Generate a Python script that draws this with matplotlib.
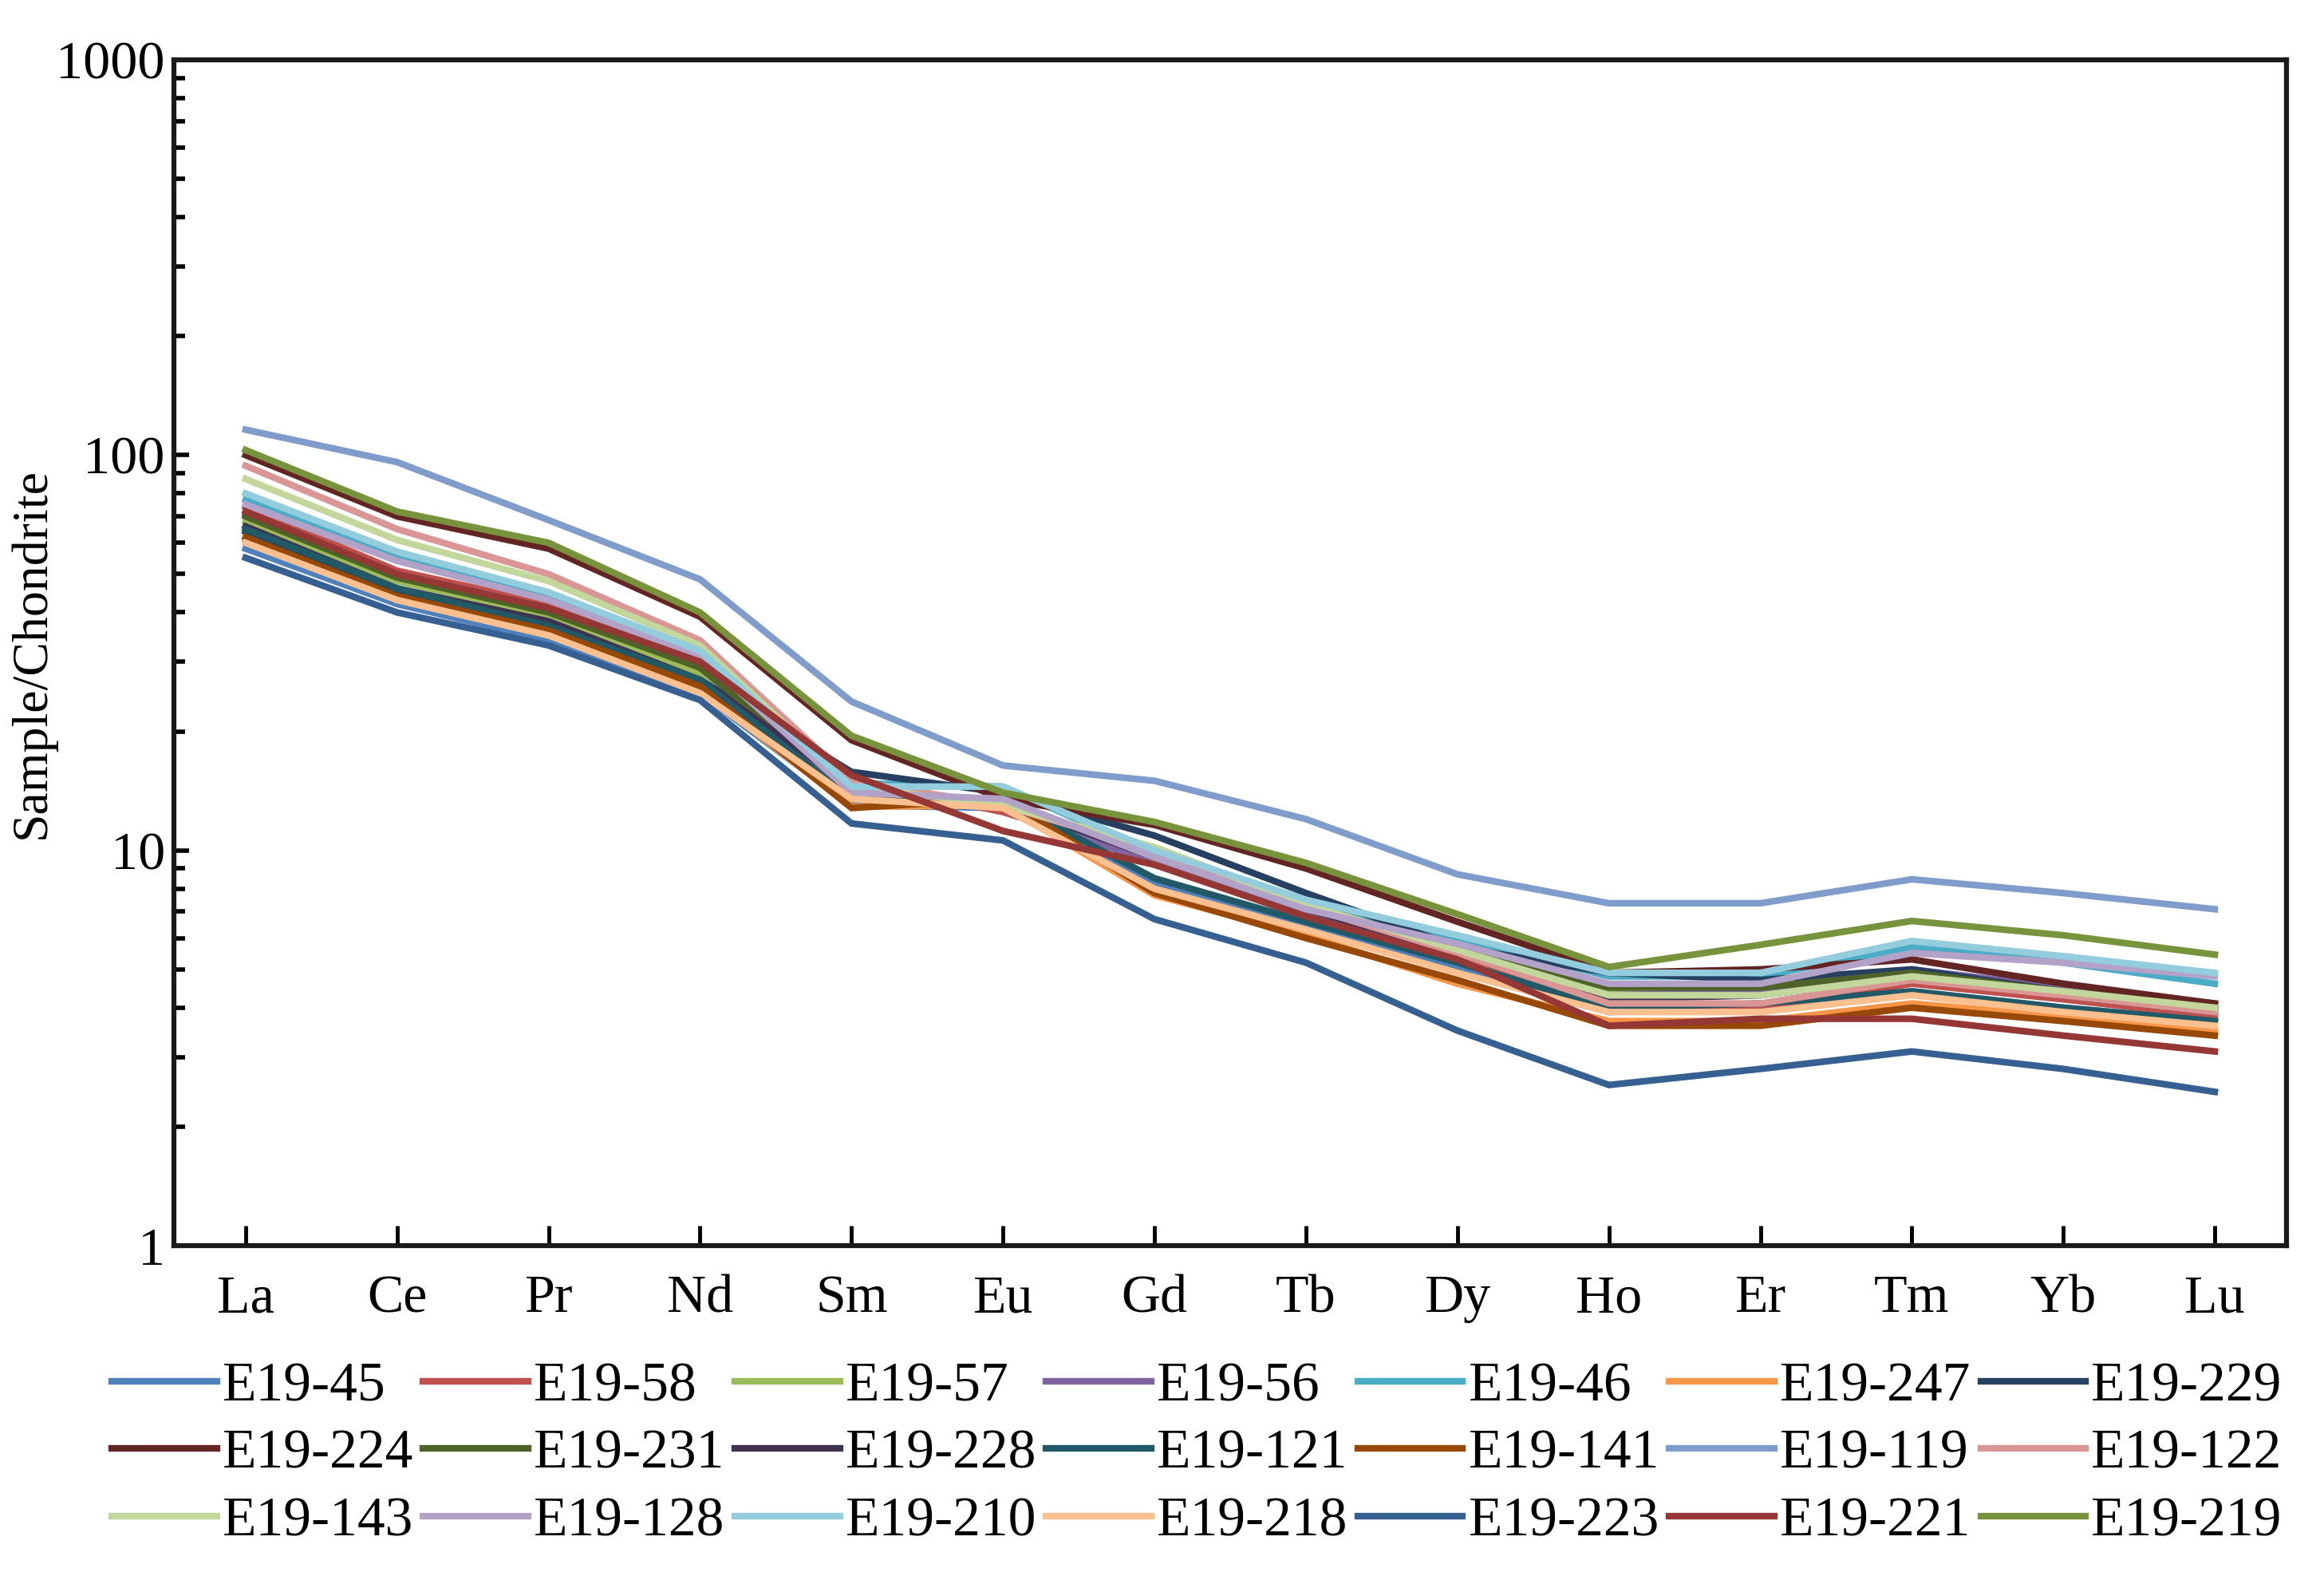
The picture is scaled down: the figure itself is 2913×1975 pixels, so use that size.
import numpy as np
import matplotlib
matplotlib.use("Agg")
import matplotlib.pyplot as plt
from matplotlib.ticker import LogLocator, NullFormatter, FixedLocator

plt.rcParams['font.family'] = ['Liberation Serif', 'DejaVu Serif']

# REE elements (x axis)
elements = ['La', 'Ce', 'Pr', 'Nd', 'Sm', 'Eu', 'Gd', 'Tb', 'Dy', 'Ho', 'Er', 'Tm', 'Yb', 'Lu']

# sample names, legend order
samples = ['E19-45', 'E19-58', 'E19-57', 'E19-56', 'E19-46', 'E19-247', 'E19-229',
           'E19-224', 'E19-231', 'E19-228', 'E19-121', 'E19-141', 'E19-119', 'E19-122',
           'E19-143', 'E19-128', 'E19-210', 'E19-218', 'E19-223', 'E19-221', 'E19-219']

# excel-like series colours
colors = ['#4F81BD', '#C0504D', '#9BBB59', '#8064A2', '#4BACC6', '#F79646', '#254061',
          '#632523', '#4F6228', '#3F3151', '#215967', '#984807', '#7F9CCB', '#D99694',
          '#C3D69B', '#B3A2C7', '#93CDDD', '#FAC090', '#376092', '#953735', '#77933C']

# chondrite normalised values
e19_45 = [58, 42, 34, 25, 13.0, 12.8, 8.2, 6.4, 5.0, 3.9, 4.0, 4.4, 4.0, 3.7]
e19_58 = [74, 51, 42, 30, 15.0, 12.5, 9.5, 7.0, 5.4, 4.0, 4.0, 4.6, 4.2, 3.8]
e19_57 = [68, 48, 39, 28, 14.0, 13.0, 9.5, 7.2, 5.6, 4.4, 4.4, 4.9, 4.5, 4.1]
e19_56 = [71, 50, 41, 29, 14.0, 13.0, 9.2, 7.0, 5.5, 4.3, 4.4, 5.0, 4.5, 4.0]
e19_46 = [77, 55, 44, 31, 14.8, 14.5, 9.8, 7.4, 6.0, 4.8, 4.8, 5.7, 5.2, 4.6]
e19_247 = [61, 43, 35, 25.5, 12.9, 13.0, 7.7, 6.1, 4.6, 3.7, 3.7, 4.1, 3.8, 3.5]
e19_229 = [64, 45, 37, 27, 15.8, 14.0, 10.9, 7.8, 5.7, 4.9, 4.7, 5.0, 4.4, 4.0]
e19_224 = [100, 70, 58, 39, 19.0, 13.5, 11.6, 9.0, 6.6, 4.9, 5.0, 5.3, 4.6, 4.1]
e19_231 = [70, 49, 40, 29, 14.2, 13.0, 9.8, 7.3, 5.6, 4.5, 4.5, 4.9, 4.4, 4.0]
e19_228 = [66, 46, 38, 27, 14.5, 13.2, 9.6, 7.1, 5.5, 4.2, 4.3, 4.8, 4.3, 3.9]
e19_121 = [65, 46, 37, 27, 13.5, 13.5, 8.5, 6.6, 5.2, 4.0, 4.1, 4.4, 4.0, 3.7]
e19_141 = [62, 44, 36, 26, 12.8, 13.5, 7.8, 6.0, 4.7, 3.6, 3.6, 4.0, 3.7, 3.4]
e19_119 = [116, 96, 68.5, 48.5, 23.8, 16.4, 15.0, 12.0, 8.7, 7.35, 7.35, 8.45, 7.8, 7.1]
e19_122 = [94, 65, 50, 34, 15.0, 13.0, 10.0, 7.2, 5.5, 4.1, 4.1, 4.7, 4.3, 3.9]
e19_143 = [87, 61, 48, 33, 14.5, 13.0, 10.2, 7.3, 5.6, 4.3, 4.3, 4.8, 4.4, 4.0]
e19_128 = [75, 54, 43, 31, 14.0, 13.5, 9.6, 7.1, 5.8, 4.6, 4.6, 5.5, 5.2, 4.8]
e19_210 = [80, 57, 45, 32, 14.5, 14.5, 10.0, 7.5, 6.1, 4.9, 4.9, 5.9, 5.4, 4.9]
e19_218 = [60, 43, 35, 25, 13.5, 12.8, 8.0, 6.3, 4.9, 3.9, 3.9, 4.3, 3.9, 3.6]
e19_223 = [55, 40, 33, 24, 11.7, 10.6, 6.7, 5.2, 3.5, 2.55, 2.8, 3.1, 2.8, 2.45]
e19_221 = [72, 50, 41, 30, 15.5, 11.2, 9.2, 6.8, 5.3, 3.6, 3.75, 3.75, 3.4, 3.1]
e19_219 = [103, 72, 60, 40, 19.5, 14.0, 11.8, 9.3, 6.9, 5.07, 5.77, 6.63, 6.1, 5.45]

data = [e19_45, e19_58, e19_57, e19_56, e19_46, e19_247, e19_229,
        e19_224, e19_231, e19_228, e19_121, e19_141, e19_119, e19_122,
        e19_143, e19_128, e19_210, e19_218, e19_223, e19_221, e19_219]

fig = plt.figure(figsize=(29.13, 19.75), dpi=100)
ax = fig.add_axes([0.0748, 0.2096, 0.9091, 0.7524])

x = np.arange(len(elements))
lines = []
for name, vals, c in zip(samples, data, colors):
    ln, = ax.plot(x, vals, color=c, lw=6, label=name, solid_joinstyle='miter')
    lines.append(ln)

ax.set_yscale('log')
ax.set_ylim(1, 1000)
ax.set_xlim(-0.474, len(elements) - 1 + 0.474)

ax.set_xticks(x)
ax.set_xticklabels(elements, fontsize=49)
ax.yaxis.set_major_locator(FixedLocator([1, 10, 100, 1000]))
ax.set_yticklabels(['1', '10', '100', '1000'], fontsize=49)
ax.yaxis.set_minor_locator(LogLocator(base=10, subs=np.arange(2, 10)))
ax.yaxis.set_minor_formatter(NullFormatter())

ax.tick_params(axis='x', direction='in', length=18, width=3.5, pad=26, top=False)
ax.tick_params(axis='y', which='major', direction='in', length=14, width=4, pad=8, right=False)
ax.tick_params(axis='y', which='minor', direction='in', length=10, width=4, right=False)

for sp in ax.spines.values():
    sp.set_linewidth(4.5)
    sp.set_color('#1a1a1a')

ax.set_ylabel('Sample/Chondrite', fontsize=46)
ax.yaxis.set_label_coords(-0.056, 0.5)

# legend is filled column by column, so reorder to read row by row
ncol = 7
nrow = 3
order = [r * ncol + c for c in range(ncol) for r in range(nrow)]
fig.legend([lines[i] for i in order], [samples[i] for i in order],
           loc='center', bbox_to_anchor=(0.036, 0.077, 0.958, 0.0), mode='expand',
           ncol=ncol, fontsize=50, frameon=False, handlelength=1.9, handletextpad=0.1,
           columnspacing=0.0, labelspacing=0.3, borderpad=0.0)

fig.savefig('out.png', dpi=100, facecolor='white')
